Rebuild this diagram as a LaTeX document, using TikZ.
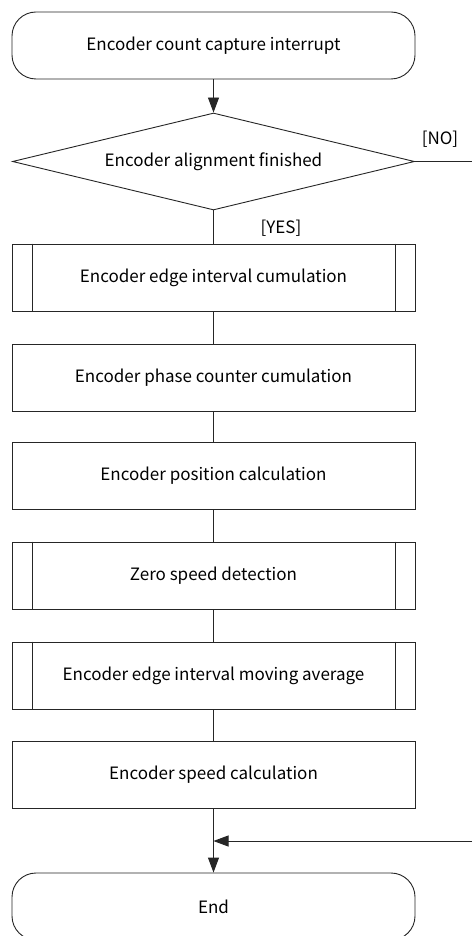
\documentclass[tikz,border=0pt]{standalone}
\usepackage{fontspec}
\setmainfont{Noto Sans CJK JP}
\usetikzlibrary{shapes.geometric,arrows.meta}
\tikzset{
  flowline/.style={draw=black!85, line width=0.9pt},
  procbox/.style={flowline, rectangle, minimum width=403pt, minimum height=67pt, inner sep=0pt, font=\fontsize{17}{20}\selectfont},
  predef/.style={procbox, append after command={
      \pgfextra{\draw[flowline] ([xshift=20.5pt]\tikzlastnode.north west) -- ([xshift=20.5pt]\tikzlastnode.south west)
        ([xshift=-20.5pt]\tikzlastnode.north east) -- ([xshift=-20.5pt]\tikzlastnode.south east);}}},
  termbox/.style={procbox, rounded corners=24pt},
  decbox/.style={flowline, diamond, aspect=4.14, minimum width=402pt, minimum height=97pt, inner sep=0pt, font=\fontsize{17}{20}\selectfont},
  lbl/.style={font=\fontsize{17}{20}\selectfont, inner sep=0pt},
  arr/.style={flowline, -{Triangle[width=11pt,length=15pt]}},
}
\begin{document}
\begin{tikzpicture}[x=1pt,y=-1pt]
\useasboundingbox[fill=white] (0,0) rectangle (472,936);
\node[termbox] (start) at (213.5,45.5) {Encoder count capture interrupt};
\node[decbox] (dec) at (213.5,161.5) {Encoder alignment finished};
\node[predef] (b1) at (213.5,277.5) {Encoder edge interval cumulation};
\node[procbox] (b2) at (213.5,377.5) {Encoder phase counter cumulation};
\node[procbox] (b3) at (213.5,475.5) {Encoder position calculation};
\node[predef] (b4) at (213.5,575.5) {Zero speed detection};
\node[predef] (b5) at (213.5,675.5) {Encoder edge interval moving average};
\node[procbox] (b6) at (213.5,774.5) {Encoder speed calculation};
\node[termbox] (end) at (213.5,906.5) {End};
\node[lbl] (no) at (440,139) {[NO]};
\node[lbl] (yes) at (281,228) {[YES]};
\coordinate (noend) at (472,161.5);
\coordinate (retstart) at (472,841);
\coordinate (join) at (213.5,841);
\draw[arr] (start.south) -- (dec.north);
\draw[flowline] (dec.south) -- (b1.north);
\draw[flowline] (b1.south) -- (b2.north);
\draw[flowline] (b2.south) -- (b3.north);
\draw[flowline] (b3.south) -- (b4.north);
\draw[flowline] (b4.south) -- (b5.north);
\draw[flowline] (b5.south) -- (b6.north);
\draw[arr] (b6.south) -- (end.north);
\draw[flowline] (dec.east) -- (noend);
\draw[arr] (retstart) -- (join);
\end{tikzpicture}
\end{document}
